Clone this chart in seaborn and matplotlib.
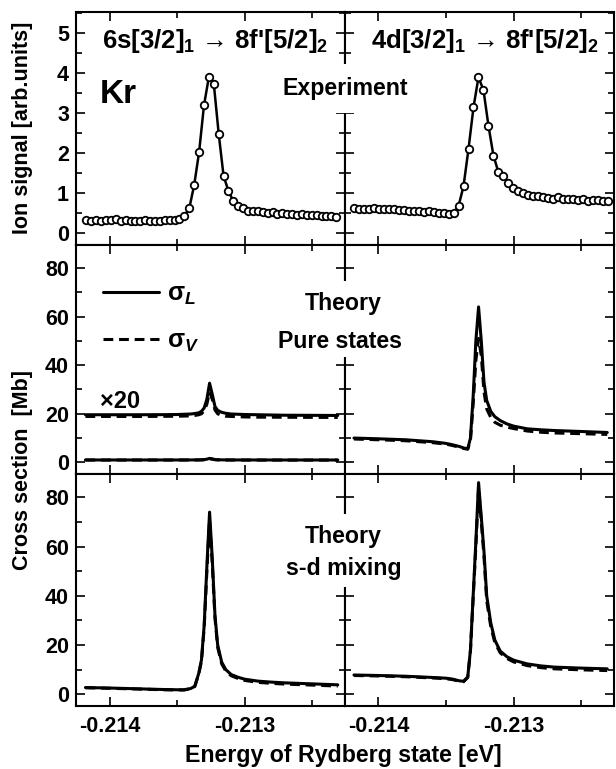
import numpy as np
import matplotlib
matplotlib.use('Agg')
import matplotlib.pyplot as plt
import seaborn as sns
from matplotlib.ticker import MultipleLocator, FixedLocator
from matplotlib.lines import Line2D

sns.set_style('ticks')
plt.rcParams['font.family'] = ['Liberation Sans', 'DejaVu Sans']
plt.rcParams['font.weight'] = 'bold'
plt.rcParams['mathtext.fontset'] = 'custom'
plt.rcParams['mathtext.rm'] = 'Liberation Sans:bold'
plt.rcParams['mathtext.it'] = 'Liberation Sans:italic:bold'
plt.rcParams['mathtext.bf'] = 'Liberation Sans:bold'
plt.rcParams['axes.linewidth'] = 1.5
plt.rcParams['lines.dashed_pattern'] = [3.2, 1.9]
for k in ['text.color', 'axes.labelcolor', 'xtick.color', 'ytick.color', 'axes.edgecolor']:
    plt.rcParams[k] = 'black'

# ---------------- data ----------------
# Experiment, left column (6s[3/2]1 -> 8f'[5/2]2)
exp_left_y = [0.32, 0.31, 0.32, 0.31, 0.33, 0.32, 0.34, 0.31, 0.32, 0.30,
              0.31, 0.30, 0.32, 0.31, 0.30, 0.31, 0.32, 0.32, 0.33, 0.36,
              0.43, 0.62, 1.20, 2.02, 3.19, 3.90, 3.73, 2.48, 1.42, 1.05,
              0.79, 0.68, 0.62, 0.55, 0.55, 0.56, 0.53, 0.49, 0.52, 0.48,
              0.50, 0.47, 0.48, 0.46, 0.47, 0.45, 0.44, 0.44, 0.43, 0.42,
              0.43, 0.41]
exp_left_range = (-0.2141728, -0.2123210)

# Experiment, right column (4d[3/2]1 -> 8f'[5/2]2)
exp_right_y = [0.62, 0.61, 0.60, 0.61, 0.62, 0.60, 0.59, 0.60, 0.59, 0.58,
               0.57, 0.56, 0.55, 0.55, 0.53, 0.54, 0.52, 0.50, 0.49, 0.47,
               0.50, 0.67, 1.17, 2.10, 3.14, 3.89, 3.57, 2.68, 1.93, 1.52,
               1.42, 1.25, 1.13, 1.06, 0.99, 0.96, 0.93, 0.92, 0.90, 0.88,
               0.85, 0.89, 0.84, 0.86, 0.85, 0.83, 0.84, 0.80, 0.83, 0.82,
               0.81, 0.80]
exp_right_range = (-0.2141813, -0.2123032)

# Theory energy grid [eV]
theory_e = [-0.21418, -0.21400, -0.21380, -0.21360, -0.21350, -0.21345,
            -0.21340, -0.21337, -0.21334, -0.21332, -0.21330, -0.21328,
            -0.21326, -0.21324, -0.21322, -0.21320, -0.21317, -0.21314,
            -0.21310, -0.21305, -0.21300, -0.21290, -0.21280, -0.21270,
            -0.21250, -0.21231]

# Pure states, left (shown also x20)
pure_left_L = [0.98, 0.98, 0.98, 0.982, 0.985, 0.99, 0.995, 1.005, 1.02, 1.05,
               1.12, 1.30, 1.63, 1.40, 1.15, 1.07, 1.03, 1.01, 0.995, 0.99,
               0.985, 0.98, 0.975, 0.97, 0.968, 0.965]
pure_left_V = [0.945, 0.945, 0.945, 0.947, 0.95, 0.953, 0.957, 0.965, 0.98, 1.0,
               1.06, 1.20, 1.45, 1.30, 1.08, 1.00, 0.965, 0.95, 0.945, 0.94,
               0.935, 0.93, 0.93, 0.928, 0.926, 0.925]
pure_scale = 20

# Pure states, right
pure_right_L = [10.0, 9.7, 9.3, 8.5, 7.8, 7.2, 6.5, 5.9, 5.6, 10.0,
                27.0, 50.0, 64.0, 50.0, 33.0, 25.5, 21.0, 18.8, 17.2, 15.8,
                14.9, 13.8, 13.4, 13.1, 12.7, 12.3]
pure_right_V = [9.6, 9.3, 8.9, 8.1, 7.5, 6.9, 6.2, 5.7, 5.4, 9.0,
                24.0, 42.0, 51.0, 44.0, 29.0, 22.0, 18.5, 16.5, 15.3, 14.5,
                13.9, 12.9, 12.4, 12.1, 11.8, 11.5]

# s-d mixing, left
mix_left_L = [2.7, 2.5, 2.2, 1.9, 1.8, 1.8, 2.3, 3.2, 8.5, 14.0,
              28.0, 52.0, 74.0, 55.0, 32.0, 20.0, 13.0, 10.0, 8.0, 6.9,
              6.1, 5.3, 4.9, 4.6, 4.2, 3.8]
mix_left_V = [2.6, 2.4, 2.1, 1.8, 1.7, 1.7, 2.2, 3.1, 8.2, 13.5,
              27.0, 50.0, 71.0, 53.0, 31.0, 19.0, 12.3, 9.4, 7.5, 6.4,
              5.6, 4.8, 4.4, 4.1, 3.7, 3.3]

# s-d mixing, right
mix_right_L = [7.8, 7.6, 7.3, 6.8, 6.5, 6.1, 5.4, 5.3, 7.0, 18.0,
               40.0, 62.0, 86.0, 72.0, 58.0, 40.0, 29.0, 22.0, 17.5, 15.2,
               13.8, 12.3, 11.5, 11.0, 10.6, 10.3]
mix_right_V = [7.6, 7.4, 7.1, 6.6, 6.3, 5.9, 5.2, 5.1, 6.8, 17.5,
               39.0, 60.0, 84.0, 70.0, 56.0, 38.0, 27.5, 21.0, 16.8, 14.5,
               13.1, 11.6, 10.8, 10.3, 9.9, 9.6]

x_major = [-0.214, -0.213]
x_minor = [-0.2135, -0.2125]
x_labels = ['-0.214', '-0.213']
xlim = (-0.21425, -0.21226)

titles = ["6s[3/2]$_1$ \u2192 8f'[5/2]$_2$", "4d[3/2]$_1$ \u2192 8f'[5/2]$_2$"]

# ---------------- figure ----------------
W, H = 616, 769
fig = plt.figure(figsize=(W / 100, H / 100), dpi=100)

xs = [76, 344.5, 614]
ys = [12, 245, 474, 706]


def make_ax(col, row):
    x0, x1 = xs[col], xs[col + 1]
    y0, y1 = ys[row], ys[row + 1]
    return fig.add_axes([x0 / W, 1 - y1 / H, (x1 - x0) / W, (y1 - y0) / H])


axes = [[make_ax(c, r) for c in range(2)] for r in range(3)]

LW = 2.2
FS = 15.5
FS2 = 16.7

# Experiment
for c, (yv, rng) in enumerate([(exp_left_y, exp_left_range), (exp_right_y, exp_right_range)]):
    ax = axes[0][c]
    xv = np.linspace(rng[0], rng[1], len(yv))
    sns.lineplot(x=xv, y=yv, ax=ax, color='black', lw=1.8, marker='o', markersize=5.4,
                 markerfacecolor='white', markeredgecolor='black', markeredgewidth=1.3,
                 errorbar=None, sort=False)

# Pure states
ax = axes[1][0]
for vals, ls in [(pure_left_L, '-'), (pure_left_V, '--')]:
    v = np.array(vals)
    sns.lineplot(x=theory_e, y=v, ax=ax, color='black', lw=LW, ls=ls, errorbar=None, sort=False)
    sns.lineplot(x=theory_e, y=v * pure_scale, ax=ax, color='black', lw=LW, ls=ls,
                 errorbar=None, sort=False)
ax = axes[1][1]
for vals, ls in [(pure_right_L, '-'), (pure_right_V, '--')]:
    sns.lineplot(x=theory_e, y=vals, ax=ax, color='black', lw=LW, ls=ls, errorbar=None, sort=False)

# Mixing
for c, pair in enumerate([(mix_left_L, mix_left_V), (mix_right_L, mix_right_V)]):
    ax = axes[2][c]
    for vals, ls in zip(pair, ['-', '--']):
        sns.lineplot(x=theory_e, y=vals, ax=ax, color='black', lw=LW, ls=ls, errorbar=None, sort=False)

# Axes formatting
for r in range(3):
    for c in range(2):
        ax = axes[r][c]
        ax.set_xlim(*xlim)
        ax.xaxis.set_major_locator(FixedLocator(x_major))
        ax.xaxis.set_minor_locator(FixedLocator(x_minor))
        if r == 0:
            ax.set_ylim(-0.3, 5.52)
            ax.yaxis.set_major_locator(MultipleLocator(1))
            ax.yaxis.set_minor_locator(MultipleLocator(0.5))
        else:
            ax.set_ylim(-4.8, 89.5)
            ax.yaxis.set_major_locator(MultipleLocator(20))
            ax.yaxis.set_minor_locator(MultipleLocator(10))
        ax.tick_params(which='both', direction='in', top=True, right=True,
                       bottom=True, left=True, width=1.2, labelsize=FS, colors='black')
        ax.tick_params(which='major', length=6.5)
        ax.tick_params(which='minor', length=4)
        if r == 2:
            ax.set_xticklabels(x_labels)
        else:
            ax.set_xticklabels([])
        if c == 1:
            ax.set_yticklabels([])
        for s in ax.spines.values():
            s.set_linewidth(1.5)
            s.set_color('black')
        ax.set_xlabel('')
        ax.set_ylabel('')
        ax.tick_params(axis='y', pad=5)
        ax.tick_params(axis='x', pad=7)
        ax.set_facecolor('white')

# Titles inside top panels
axes[0][0].text(0.518, 0.875, titles[0], transform=axes[0][0].transAxes, ha='center', va='center',
                fontsize=18.5, fontweight='bold')
axes[0][1].text(0.52, 0.875, titles[1], transform=axes[0][1].transAxes, ha='center', va='center',
                fontsize=18.5, fontweight='bold')
axes[0][0].text(0.156, 0.644, 'Kr', transform=axes[0][0].transAxes, ha='center', va='center',
                fontsize=24, fontweight='bold')

box = dict(facecolor='white', edgecolor='none', pad=3)
fig.text(345 / W, 1 - 95 / H, 'Experiment', ha='center', va='baseline', fontsize=FS2,
         fontweight='bold', bbox=dict(facecolor='white', edgecolor='none', pad=9), zorder=10)
fig.text(343 / W, 1 - 310 / H, 'Theory', ha='center', va='baseline', fontsize=FS2,
         fontweight='bold', bbox=dict(facecolor='white', edgecolor='none', pad=8), zorder=10)
fig.text(340 / W, 1 - 348 / H, 'Pure states', ha='center', va='baseline', fontsize=FS2,
         fontweight='bold', bbox=box, zorder=11)
fig.text(343 / W, 1 - 543 / H, 'Theory', ha='center', va='baseline', fontsize=FS2,
         fontweight='bold', bbox=dict(facecolor='white', edgecolor='none', pad=8), zorder=10)
fig.text(344 / W, 1 - 575 / H, 's-d mixing', ha='center', va='baseline', fontsize=FS2,
         fontweight='bold', bbox=dict(facecolor='white', edgecolor='none', pad=5), zorder=11)

axes[1][0].text((100 - 76) / 268.5, (474 - 408) / 229, '\u00d720', transform=axes[1][0].transAxes,
                ha='left', va='baseline', fontsize=17, fontweight='bold')

# Legend
handles = [Line2D([], [], color='black', lw=LW, ls='-'),
           Line2D([], [], color='black', lw=LW, ls='--')]
leg = axes[1][0].legend(handles, ['\u03c3$_L$', '\u03c3$_V$'], loc='upper left',
                        bbox_to_anchor=((103 - 76) / 268.5, (474 - 282) / 229),
                        frameon=False, fontsize=18, handlelength=2.25, handletextpad=0.3,
                        borderpad=0, borderaxespad=0, labelspacing=0.85)

# Axis labels
fig.text(23 / W, 1 - 128 / H, 'Ion signal [arb.units]', rotation=90, ha='center', va='center',
         fontsize=FS, fontweight='bold')
fig.text(23 / W, 1 - 470 / H, 'Cross section  [Mb]', rotation=90, ha='center', va='center',
         fontsize=FS, fontweight='bold')
fig.text(343 / W, 1 - 762 / H, 'Energy of Rydberg state [eV]', ha='center', va='baseline',
         fontsize=FS2, fontweight='bold')

fig.savefig('out.png', dpi=100, facecolor='white')
